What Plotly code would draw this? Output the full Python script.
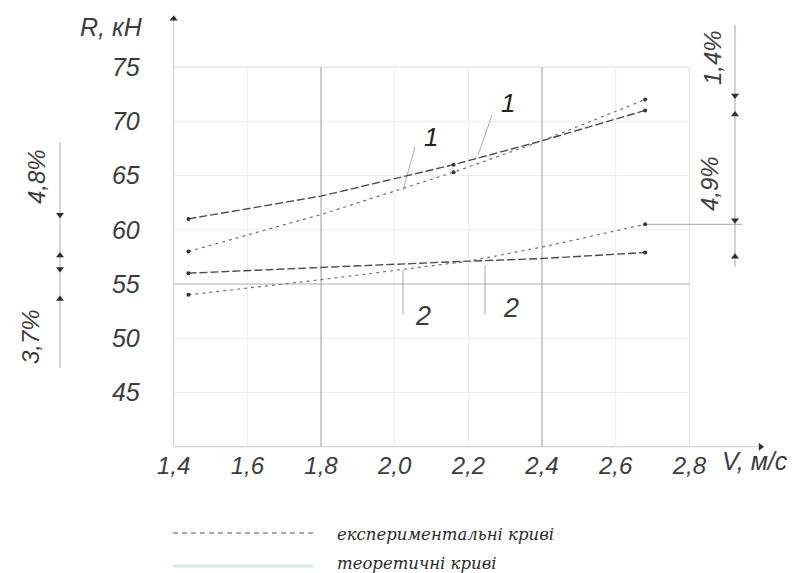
import plotly.graph_objects as go

# ---- data: traction resistance R (kN) vs speed V (m/s) ----
v_theo_1 = [1.44, 1.80, 2.16, 2.40, 2.68]
r_theo_1 = [61.0, 63.1, 66.0, 68.2, 71.0]
v_exp_1 = [1.44, 1.80, 2.16, 2.40, 2.68]
r_exp_1 = [58.0, 61.4, 65.3, 68.2, 72.0]
v_theo_2 = [1.44, 1.80, 2.16, 2.40, 2.68]
r_theo_2 = [56.0, 56.55, 57.05, 57.35, 57.9]
v_exp_2 = [1.44, 1.80, 2.20, 2.40, 2.68]
r_exp_2 = [54.0, 55.4, 57.1, 58.4, 60.5]

x_ticks = [1.4, 1.6, 1.8, 2.0, 2.2, 2.4, 2.6, 2.8]
x_tick_text = ["1,4", "1,6", "1,8", "2,0", "2,2", "2,4", "2,6", "2,8"]
y_ticks = [45, 50, 55, 60, 65, 70, 75]
y_tick_text = ["45", "50", "55", "60", "65", "70", "75"]

dev_right = ["1,4%", "4,9%"]
dev_left = ["4,8%", "3,7%"]
legend_text = ["експериментальні криві", "теоретичні криві"]

# ---- scale: the plotting area is the whole page ----
W, H = 812, 573
PX_V = 368.3          # pixels per 1 m/s
PX_R = 10.85          # pixels per 1 kN
X0 = 1.4 - 173.7 / PX_V
X1 = X0 + W / PX_V
Y1 = 75 + 67 / PX_R
Y0 = Y1 - H / PX_R


def vx(px):
    return X0 + px / PX_V


def ry(py):
    return Y1 - py / PX_R


V_MIN, V_MAX = x_ticks[0], x_ticks[-1]
R_MIN, R_MAX = 40, y_ticks[-1]

TXT = "#3c3c3c"
FONT = "Liberation Sans"

fig = go.Figure()
shapes = []


def seg(xa, ya, xb, yb, color, width=1.0, dash=None):
    line = dict(color=color, width=width)
    if dash:
        line["dash"] = dash
    shapes.append(dict(type="line", xref="x", yref="y", x0=xa, y0=ya, x1=xb, y1=yb,
                       line=line, layer="below"))


# faint grid
for v in x_ticks[1:]:
    if v not in (1.8, 2.4):
        seg(v, R_MIN, v, R_MAX, "#ececec")
for r in y_ticks[:-1]:
    if r != 55:
        seg(V_MIN, r, V_MAX, r, "#ececec")
seg(V_MIN, R_MAX, V_MAX, R_MAX, "#dcdcdc")
seg(V_MAX, R_MIN, V_MAX, R_MAX, "#e4e4e4")
# emphasised grid lines
seg(1.8, R_MIN, 1.8, R_MAX, "#ababab", 1.2)
seg(2.4, R_MIN, 2.4, R_MAX, "#ababab", 1.2)
seg(V_MIN, 55, V_MAX, 55, "#ababab", 1.2)
# axes
y_tip = ry(15)
x_tip = vx(765)
seg(V_MIN, R_MIN, V_MIN, y_tip - 0.4, "#c8c8c8", 1.0)
seg(V_MIN, R_MIN, x_tip - 0.02, R_MIN, "#c8c8c8", 1.0)

# dimension lines
v_dim_r = vx(735)
v_dim_l = vx(60)
seg(v_dim_r, ry(25), v_dim_r, ry(267), "#a4a4a4", 1.0)
seg(v_exp_2[-1], r_exp_2[-1], vx(742), r_exp_2[-1], "#a4a4a4", 1.0)
seg(v_dim_l, ry(142), v_dim_l, ry(368), "#acacac", 1.0)

# leader lines for curve numbers
seg(vx(415), ry(147), vx(403), ry(190), "#a0a0a0", 0.9)
seg(vx(492), ry(115), vx(478), ry(155), "#a0a0a0", 0.9)
seg(vx(403), ry(270), vx(403), ry(315), "#a0a0a0", 0.9)
seg(vx(485), ry(265), vx(485), ry(315), "#a0a0a0", 0.9)

# legend samples
shapes.append(dict(type="line", xref="x", yref="y", x0=vx(173), x1=vx(313), y0=ry(533), y1=ry(533),
                   line=dict(color="#555555", width=1.1, dash="5px,4px")))
shapes.append(dict(type="line", xref="x", yref="y", x0=vx(173), x1=vx(313), y0=ry(566), y1=ry(566),
                   line=dict(color="#d3e9e9", width=3)))

# ---- curves ----
THEO = dict(color="#4d4d4d", width=1.4, dash="8px,3px")
EXP = dict(color="#727272", width=1.2, dash="3px,4px")
for v, r, ln in [(v_theo_1, r_theo_1, THEO), (v_exp_1, r_exp_1, EXP),
                 (v_theo_2, r_theo_2, THEO), (v_exp_2, r_exp_2, EXP)]:
    fig.add_trace(go.Scatter(x=v, y=r, mode="lines", line=ln, hoverinfo="skip", showlegend=False))

# end points of the curves (and the intermediate points of curves 1)
mv, mr = [], []
for v, r in [(v_theo_1, r_theo_1), (v_exp_1, r_exp_1), (v_theo_2, r_theo_2), (v_exp_2, r_exp_2)]:
    mv += [v[0], v[-1]]
    mr += [r[0], r[-1]]
for v, r in [(v_theo_1, r_theo_1), (v_exp_1, r_exp_1)]:
    mv.append(v[2])
    mr.append(r[2])
fig.add_trace(go.Scatter(x=mv, y=mr, mode="markers", marker=dict(size=4, color="#333333"),
                         hoverinfo="skip", showlegend=False))

# arrowheads: axes and dimension arrows
ah = 0.38  # half arrow height in kN
arr_v, arr_r, arr_s = [], [], []
arr_v += [V_MIN]; arr_r += [y_tip - 0.35]; arr_s += ["triangle-up"]
arr_v += [x_tip - 0.012]; arr_r += [R_MIN]; arr_s += ["triangle-right"]
# right: between curve ends
for top, bot in [(r_exp_1[-1], r_theo_1[-1]), (r_exp_2[-1], r_theo_2[-1])]:
    arr_v += [v_dim_r, v_dim_r]
    arr_r += [top + ah, bot - ah]
    arr_s += ["triangle-down", "triangle-up"]
# left: between curve starts
for top, bot in [(r_theo_1[0], r_exp_1[0]), (r_theo_2[0], r_exp_2[0])]:
    arr_v += [v_dim_l, v_dim_l]
    arr_r += [top + ah, bot - ah]
    arr_s += ["triangle-down", "triangle-up"]
fig.add_trace(go.Scatter(x=arr_v, y=arr_r, mode="markers",
                         marker=dict(size=7, color="#2e2e2e", symbol=arr_s, line=dict(width=0)),
                         hoverinfo="skip", showlegend=False))

# ---- text ----
ann = []


def text(x, y, s, size=21, angle=0, xanchor="center", family=FONT, color=TXT, style="italic"):
    ann.append(dict(x=x, y=y, xref="x", yref="y", text=s, showarrow=False, textangle=angle,
                    xanchor=xanchor, yanchor="middle",
                    font=dict(family=family, size=size, color=color, style=style)))


text(vx(111), ry(27), "R, кН", size=25)
text(vx(720), ry(461), "V, м/с", size=25, xanchor="left")
text(vx(712), ry(58), dev_right[0], size=24, angle=-90)
text(vx(709), ry(184), dev_right[1], size=24, angle=-90)
text(vx(36), ry(177), dev_left[0], size=24, angle=-90)
text(vx(30), ry(337), dev_left[1], size=24, angle=-90)
text(vx(431), ry(137), "1", size=26, color="#222222")
text(vx(508), ry(103), "1", size=26, color="#222222")
text(vx(423), ry(316), "2", size=27)
text(vx(511), ry(308), "2", size=27)
text(vx(335), ry(534), legend_text[0], size=16.5, xanchor="left", family="DejaVu Serif", color="#2a2a2a")
text(vx(335), ry(563), legend_text[1], size=16.5, xanchor="left", family="DejaVu Serif", color="#2a2a2a")

fig.update_layout(
    width=W, height=H,
    margin=dict(l=0, r=0, t=0, b=0, pad=0),
    paper_bgcolor="white", plot_bgcolor="white",
    shapes=shapes, annotations=ann,
    xaxis=dict(range=[X0, X1], domain=[0, 1], anchor="free",
               position=(R_MIN - Y0) / (Y1 - Y0),
               tickvals=x_ticks, ticktext=x_tick_text, ticks="",
               showgrid=False, zeroline=False, showline=False,
               ticklabelstandoff=2,
               tickfont=dict(family=FONT, size=24, color=TXT, style="italic")),
    yaxis=dict(range=[Y0, Y1], domain=[0, 1], anchor="free",
               position=(V_MIN - X0) / (X1 - X0),
               tickvals=y_ticks, ticktext=y_tick_text, ticks="",
               showgrid=False, zeroline=False, showline=False,
               ticklabelstandoff=34,
               tickfont=dict(family=FONT, size=25, color=TXT, style="italic")),
    showlegend=False,
)

fig.write_html("out.html")
